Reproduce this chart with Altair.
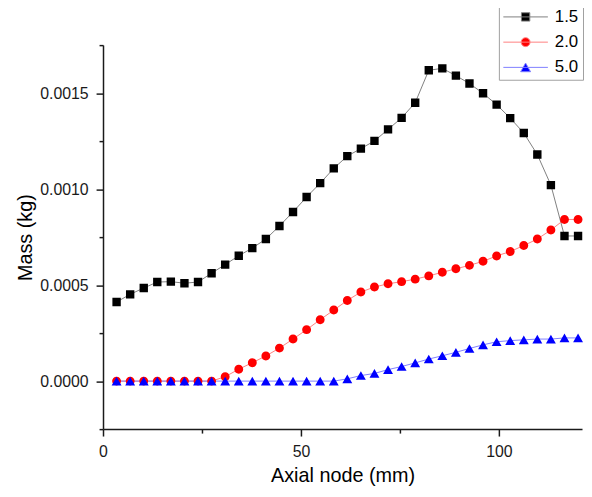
import altair as alt
import pandas as pd

# ---- data ----
x_mm = [3.43, 6.86, 10.29, 13.71, 17.14, 20.57, 24.00, 27.43, 30.86, 34.29,
        37.71, 41.14, 44.57, 48.00, 51.43, 54.86, 58.29, 61.71, 65.14, 68.57,
        72.00, 75.43, 78.86, 82.29, 85.71, 89.14, 92.57, 96.00, 99.43, 102.86,
        106.29, 109.71, 113.14, 116.57, 120.00]

mass_15 = [0.000412, 0.000452, 0.000485, 0.000516, 0.000518, 0.000510, 0.000516,
           0.000562, 0.000607, 0.000653, 0.000693, 0.000740, 0.000808, 0.000881,
           0.000959, 0.001031, 0.001108, 0.001172, 0.001211, 0.001251, 0.001311,
           0.001371, 0.001450, 0.001619, 0.001629, 0.001591, 0.001550, 0.001499,
           0.001440, 0.001370, 0.001292, 0.001180, 0.001021, 0.000756, 0.000756]

mass_20 = [0.0, 0.0, 0.0, 0.0, 0.0, 0.0, 0.0, 0.0, 0.000023, 0.000062,
           0.000096, 0.000131, 0.000172, 0.000219, 0.000268, 0.000320, 0.000370,
           0.000420, 0.000464, 0.000490, 0.000507, 0.000518, 0.000531, 0.000548,
           0.000567, 0.000585, 0.000603, 0.000624, 0.000652, 0.000675, 0.000706,
           0.000740, 0.000787, 0.000842, 0.000842]

mass_50 = [0.0, 0.0, 0.0, 0.0, 0.0, 0.0, 0.0, 0.0, 0.0, 0.0,
           0.0, 0.0, 0.0, 0.0, 0.0, 0.0, 0.0, 0.000012, 0.000029, 0.000040,
           0.000060, 0.000076, 0.000095, 0.000115, 0.000132, 0.000150, 0.000170,
           0.000189, 0.000205, 0.000211, 0.000215, 0.000219, 0.000219, 0.000225,
           0.000225]

series_names = ["1.5", "2.0", "5.0"]
y_ticks = [-0.00025, 0.0, 0.00025, 0.0005, 0.00075, 0.001, 0.00125, 0.0015, 0.00175]
x_ticks = [0, 25, 50, 75, 100]

# ---- styles ----
marker_colors = ["#000000", "#ff0000", "#0000ff"]
line_colors = ["#808080", "#ff8080", "#8080ff"]
# filled marker outline + a horizontal stub that is only stroked (seen in the legend only)
marker_paths = [
    "M-0.94,-0.94H0.94V0.94H-0.94Z M-5,0H5",
    "M1,0A1,1,0,1,1,-1,0A1,1,0,1,1,1,0Z M-5,0H5",
    "M0,-0.97L1.11,0.97H-1.11Z M-5,0H5",
]
FONT = "Liberation Sans"
AX = "#1a1a1a"

rows = []
for name, vals in zip(series_names, [mass_15, mass_20, mass_50]):
    for i, (xv, yv) in enumerate(zip(x_mm, vals)):
        rows.append({"series": name, "x": xv, "mass": yv, "idx": i})
df = pd.DataFrame(rows)

def pick(colors):
    return ("datum.value == '%s' ? '%s' : datum.value == '%s' ? '%s' : '%s'"
            % (series_names[0], colors[0], series_names[1], colors[1], colors[2]))

xenc = alt.X("x:Q", scale=alt.Scale(domain=[0, 121], nice=False, zero=False),
             axis=alt.Axis(values=x_ticks, grid=False,
                           labelExpr="round(datum.value/25) % 2 == 0 ? format(datum.value, 'd') : ''",
                           tickSize={"condition": {"test": "round(datum.value/25) % 2 != 0", "value": 4}, "value": 7},
                           labelOverlap=False, labelFlush=False,
                           domainColor=AX, domainWidth=1.5, tickColor=AX, tickWidth=1.5,
                           labelFont=FONT, labelFontSize=16, labelColor=AX, labelPadding=8,
                           title="Axial node (mm)", titleFont=FONT, titleFontSize=20,
                           titleFontWeight="normal", titleColor="black", titlePadding=6))
yenc = alt.Y("mass:Q", scale=alt.Scale(domain=[-0.00025, 0.00175], nice=False, zero=False),
             axis=alt.Axis(values=y_ticks, grid=False,
                           labelExpr="round(datum.value*4000) % 2 == 0 ? format(datum.value, '.4f') : ''",
                           tickSize={"condition": {"test": "round(datum.value*4000) % 2 != 0", "value": 4}, "value": 7},
                           labelOverlap=False, labelFlush=False,
                           domainColor=AX, domainWidth=1.5, tickColor=AX, tickWidth=1.5,
                           labelFont=FONT, labelFontSize=16, labelColor=AX, labelPadding=8,
                           title="Mass (kg)", titleFont=FONT, titleFontSize=20,
                           titleFontWeight="normal", titleColor="black", titlePadding=4))

base = alt.Chart(df)

lines = base.mark_line(strokeWidth=1).encode(
    x=xenc, y=yenc,
    color=alt.Color("series:N", scale=alt.Scale(domain=series_names, range=line_colors), legend=None),
    order="idx:Q",
)

leg = alt.Legend(title=None, orient="none", legendX=400, legendY=-41,
                 symbolSize=81, symbolOffset=14.5, labelOffset=21,
                 symbolStrokeWidth=1, symbolOpacity=1,
                 symbolFillColor=alt.ExprRef(pick(marker_colors)),
                 symbolStrokeColor=alt.ExprRef(pick(line_colors)),
                 padding=4, fillColor="white", strokeColor="#a0a0a0",
                 labelFont=FONT, labelFontSize=17, labelColor="black", rowPadding=7.5)

points = base.mark_point(filled=True, opacity=1, strokeWidth=0, size=81).encode(
    x=xenc, y=yenc,
    color=alt.Color("series:N", scale=alt.Scale(domain=series_names, range=marker_colors), legend=None),
    shape=alt.Shape("series:N", scale=alt.Scale(domain=series_names, range=marker_paths), legend=leg),
)

chart = alt.layer(lines, points).resolve_scale(color="independent").properties(
    width=484, height=388,
    autosize=alt.AutoSizeParams(type="none"),
    padding={"left": 96, "top": 35, "right": 2, "bottom": 58},
    background="white",
).configure_view(stroke=None)

chart.save("out.html", embed_options={"renderer": "svg", "actions": False})
